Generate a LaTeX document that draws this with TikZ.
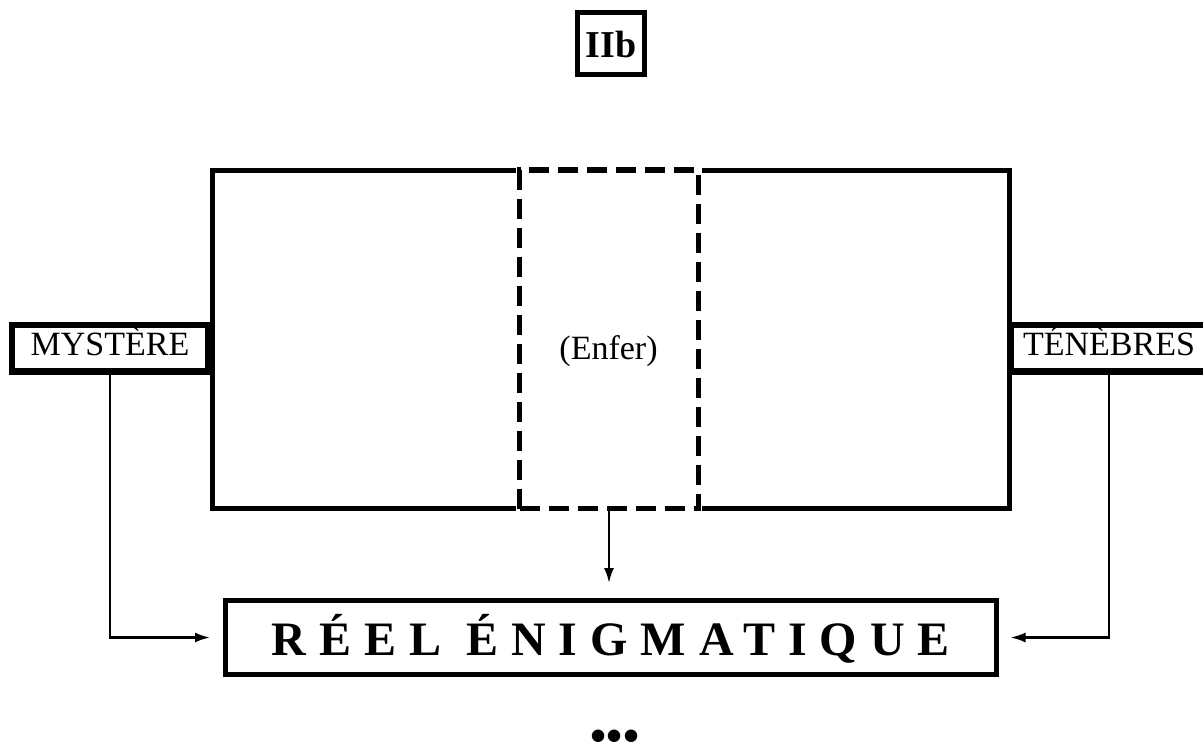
\documentclass[tikz,border=0pt]{standalone}
\usepackage{fontspec}
\setmainfont{Liberation Serif}
\usetikzlibrary{arrows.meta}

\begin{document}
\begin{tikzpicture}[x=0.5pt,y=-0.5pt,>={Latex[length=7.5pt,width=5pt]},
  sidebox/.style={draw,line width=3.25pt,minimum width=98pt,minimum height=23.25pt,
    inner sep=0pt,text height=10pt,text depth=3pt,font=\fontsize{17}{19}\selectfont},
  enferbox/.style={draw,line width=2.6pt,dash pattern=on 10pt off 4.5pt,
    minimum width=89.5pt,minimum height=169.25pt,inner sep=0pt,
    preaction={draw=white,solid,line width=3.5pt}},
  link/.style={->,line width=1.1pt}]

\useasboundingbox (0,0) rectangle (1203,745);

% Title
\node[draw,line width=2.5pt,minimum width=33.5pt,minimum height=31pt,inner sep=0pt,
  text height=15pt,text depth=1.5pt,font=\fontsize{19}{22}\selectfont\bfseries] (titre) at (611,43.5) {IIb};

% Main frame and the dashed middle part
\node[draw,line width=2.5pt,minimum width=398.5pt,minimum height=169.25pt] (monde) at (611,339.25) {};
\node[enferbox] (enfer) at (609,339.25) {};
\node[font=\fontsize{17}{19}\selectfont] (enferlbl) at (608.5,351.5) {(Enfer)};

% Side boxes
\node[sidebox] (mystere) at (110,348) {MYSTÈRE};
\node[sidebox] (tenebres) at (1109,348) {TÉNÈBRES};

% Bottom box
\node[draw,line width=2.5pt,minimum width=385.25pt,minimum height=37pt,inner sep=0pt,
  text height=20pt,text depth=2.5pt,
  font=\fontsize{24}{28}\selectfont\bfseries\addfontfeature{LetterSpace=27}] (reel) at (610.75,637.5) {RÉEL ÉNIGMATIQUE};

% Arrows
\draw[link,shorten >=7.5pt] (enfer.south) -- (enfer.south |- reel.north);
\draw[link,shorten >=6.5pt] (mystere.south) |- (reel.west);
\draw[link,shorten >=6pt] (tenebres.south) |- (reel.east);

\node[font=\fontsize{23}{26}\selectfont\bfseries,inner sep=0pt] (suite) at (615,741) {\textbullet\textbullet\textbullet};

\end{tikzpicture}
\end{document}
